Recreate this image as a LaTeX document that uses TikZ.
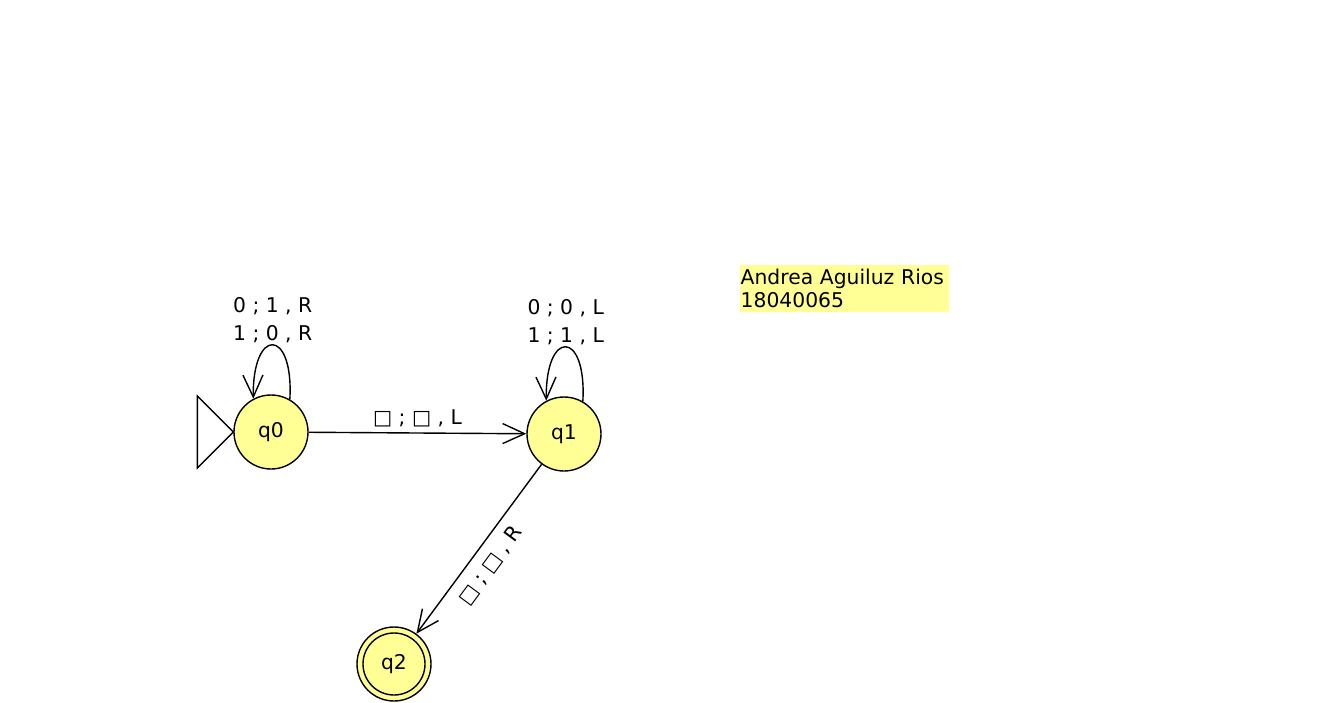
\documentclass[tikz,border=0pt]{standalone}
\usepackage{fontspec}
\setmainfont{DejaVu Sans}
\usetikzlibrary{arrows.meta}
\definecolor{stateyellow}{RGB}{255,255,150}
\tikzset{
  stt/.style={circle,draw,fill=stateyellow,minimum size=74pt,inner sep=0pt,font=\fontsize{20.3}{24}\selectfont},
  lbl/.style={font=\fontsize{20.3}{28}\selectfont,inner sep=2pt},
  notebox/.style={fill=stateyellow,anchor=north west,inner sep=1pt,text width=207pt,minimum height=47pt,align=left,font=\fontsize{20.3}{23.5}\selectfont}
}
\begin{document}
\begin{tikzpicture}[x=1pt,y=-1pt,line width=1.4pt,>={Straight Barb[length=22pt,width=20pt]}]
\useasboundingbox (0,0) rectangle (1339,702);
\node[stt] (q0) at (271,432) {q0};
\node[stt] (q1) at (564,434) {q1};
\node[stt] (q2) at (394,664) {q2};
\draw (q2) circle (31pt);
\draw (q0.west) -- ++(-36,-36) -- ++(0,72) -- cycle; % initial
\draw[->] (q0) -- node[lbl,above=3pt] {□ ; □ , L} (q1);
\draw[->] (q1) -- node[lbl,sloped,below=8pt,pos=0.53] {□ ; □ , R} (q2);
\draw[->] (q0.60) .. controls +(4,-72) and +(-1,-72) .. node[lbl,above=1pt,inner sep=0pt,align=center] {0 ; 1 , R\\1 ; 0 , R} (q0.118);
\draw[->] (q1.60) .. controls +(4,-72) and +(-1,-72) .. node[lbl,above=1pt,inner sep=0pt,align=center] {0 ; 0 , L\\1 ; 1 , L} (q1.118);
\node[notebox] (nt) at (739,264) {Andrea Aguiluz Rios\\18040065};
\end{tikzpicture}
\end{document}
